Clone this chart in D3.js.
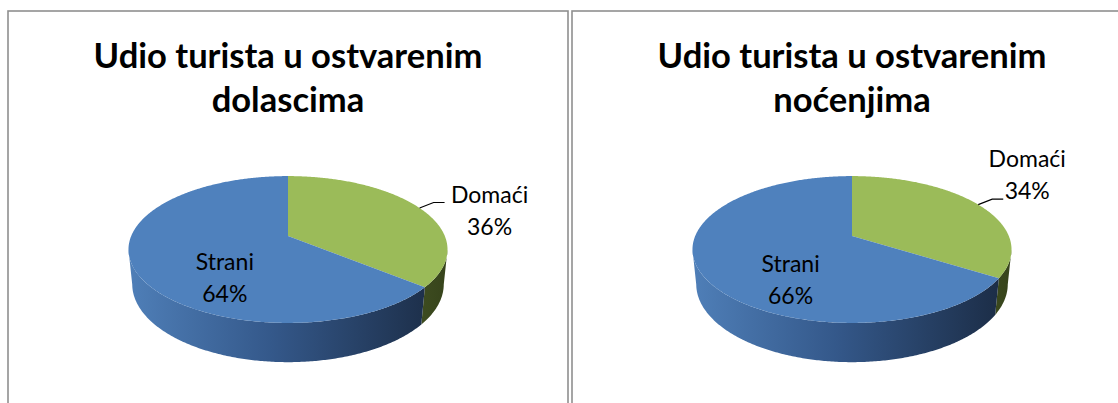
<!DOCTYPE html>
<html>
<head>
<meta charset="utf-8">
<script src="https://cdn.jsdelivr.net/npm/d3@7"></script>
<style>
  body { margin: 0; background: #fff; }
  svg { display: block; }
</style>
</head>
<body>
<script>
var w = 1118,
    h = 403;

// Data
var categories = ['Domaći', 'Strani'];
var dolasciValues = [36, 64];
var nocenjaValues = [34, 66];
var titles = [
  ['Udio turista u ostvarenim', 'dolascima'],
  ['Udio turista u ostvarenim', 'noćenjima']
];

var colors = ['#9bbb59', '#4f81bd'];

var svg = d3.select('body')
            .append('svg')
            .attr('width', w)
            .attr('height', h);

var defs = svg.append('defs');

// 3d pie view settings (fitted by eye)
var R = 156.8,
    elev = 26.9 * Math.PI / 180,
    camD = 4.85,
    thick = 0.25;

var sinE = Math.sin(elev),
    cosE = Math.cos(elev);

// project a point of the disk: angle a (clockwise from back), radius r, height y
function project(cx, cy, a, r, y) {
  var X = r * Math.sin(a),
      Z = -r * Math.cos(a);
  var v = Z * sinE - y * cosE,
      d = Z * cosE + y * sinE;
  var s = camD / (camD - d);
  return [cx + R * X * s, cy + R * v * s];
}

// silhouette angles of the side wall
var k = camD / cosE;
var aLeft = Math.acos(-1 / k),
    aRight = 2 * Math.PI - aLeft;

var line = d3.line();

function arcPoints(cx, cy, a0, a1, y) {
  var n = Math.max(2, Math.ceil(Math.abs(a1 - a0) / 0.01));
  return d3.range(n + 1).map(function(i) {
    return project(cx, cy, a0 + (a1 - a0) * i / n, 1, y);
  });
}

var panels = [
  { x: 8, values: dolasciValues, title: titles[0],
    labelDx: 45, labelDy: 1 },
  { x: 572, values: nocenjaValues, title: titles[1],
    labelDx: 24, labelDy: -32 }
];

var pie = d3.pie().sort(null).value(function(d) { return d; });

panels.forEach(function(p, pi) {
  var g = svg.append('g');
  var cx = p.x + 280,
      cy = 236;

  // panel border
  g.append('rect')
   .attr('x', p.x)
   .attr('y', 11)
   .attr('width', 560)
   .attr('height', h + 20)
   .style('fill', 'none')
   .style('stroke', '#8f8f8f')
   .style('stroke-width', 1.6);

  // title, scaled to fit the reference line width
  var title = g.append('text')
               .attr('text-anchor', 'middle')
               .style('font-family', 'Lato, "Open Sans", sans-serif')
               .style('font-weight', 'bold')
               .style('font-size', '32px')
               .style('fill', '#000');
  title.selectAll('tspan')
       .data(p.title)
       .enter()
       .append('tspan')
       .attr('x', cx)
       .attr('y', function(d, i) { return 68 + i * 44; })
       .text(function(d) { return d; });
  var tw = title.select('tspan').node().getComputedTextLength();
  title.style('font-size', (32 * 389 / tw) + 'px');

  var arcs = pie(p.values);

  // wall gradients
  var gradStops = [
    [['0', '#8fae55'], ['1', '#36431b']],
    [['0', '#4f7fb8'], ['0.45', '#34588a'], ['1', '#1a2a42']]
  ];
  gradStops.forEach(function(stops, si) {
    var grad = defs.append('linearGradient')
                   .attr('id', 'wall' + pi + '_' + si)
                   .attr('gradientUnits', 'userSpaceOnUse')
                   .attr('x1', cx - R * 1.02)
                   .attr('x2', cx + R * 1.02)
                   .attr('y1', 0)
                   .attr('y2', 0);
    grad.selectAll('stop')
        .data(stops)
        .enter()
        .append('stop')
        .attr('offset', function(d) { return d[0]; })
        .attr('stop-color', function(d) { return d[1]; });
  });

  // side walls (front part only)
  g.selectAll('path.wall')
   .data(arcs)
   .enter()
   .append('path')
   .attr('class', 'wall')
   .attr('d', function(d) {
      var lo = Math.max(d.startAngle, aLeft),
          hi = Math.min(d.endAngle, aRight);
      if (lo >= hi) return null;
      var pts = arcPoints(cx, cy, lo, hi, 0)
                  .concat(arcPoints(cx, cy, hi, lo, -thick));
      return line(pts) + 'Z';
   })
   .style('fill', function(d, i) { return 'url(#wall' + pi + '_' + i + ')'; });

  // top faces
  g.selectAll('path.top')
   .data(arcs)
   .enter()
   .append('path')
   .attr('class', 'top')
   .attr('d', function(d) {
      var pts = [project(cx, cy, 0, 0, 0)]
                  .concat(arcPoints(cx, cy, d.startAngle, d.endAngle, 0));
      return line(pts) + 'Z';
   })
   .style('fill', function(d, i) { return colors[i]; });

  // outside label with leader line for Domaći
  var dom = arcs[0];
  var mid = (dom.startAngle + dom.endAngle) / 2;
  var p0 = project(cx, cy, mid, 1, 0);
  var p1 = [p0[0] + 14, p0[1] - 5.5],
      p2 = [p1[0] + 11, p1[1]];
  g.append('path')
   .attr('d', line([p0, p1, p2]))
   .style('fill', 'none')
   .style('stroke', '#000')
   .style('stroke-width', 1.2);

  var outLabel = g.append('text')
                  .attr('text-anchor', 'middle')
                  .style('font-family', 'Lato, "Open Sans", sans-serif')
                  .style('font-size', '23px')
                  .style('fill', '#000');
  outLabel.selectAll('tspan')
          .data([categories[0], p.values[0] + '%'])
          .enter()
          .append('tspan')
          .attr('x', p2[0] + p.labelDx)
          .attr('y', function(d, i) { return p2[1] + p.labelDy + i * 32; })
          .text(function(d) { return d; });

  // inside label for Strani
  var str = arcs[1];
  var midS = (str.startAngle + str.endAngle) / 2;
  var q = project(cx, cy, midS, 0.45, 0);
  var inLabel = g.append('text')
                 .attr('text-anchor', 'middle')
                 .style('font-family', 'Lato, "Open Sans", sans-serif')
                 .style('font-size', '23px')
                 .style('fill', '#000');
  inLabel.selectAll('tspan')
         .data([categories[1], p.values[1] + '%'])
         .enter()
         .append('tspan')
         .attr('x', q[0] + 3)
         .attr('y', function(d, i) { return q[1] + 20 + i * 32; })
         .text(function(d) { return d; });
});
</script>
</body>
</html>
